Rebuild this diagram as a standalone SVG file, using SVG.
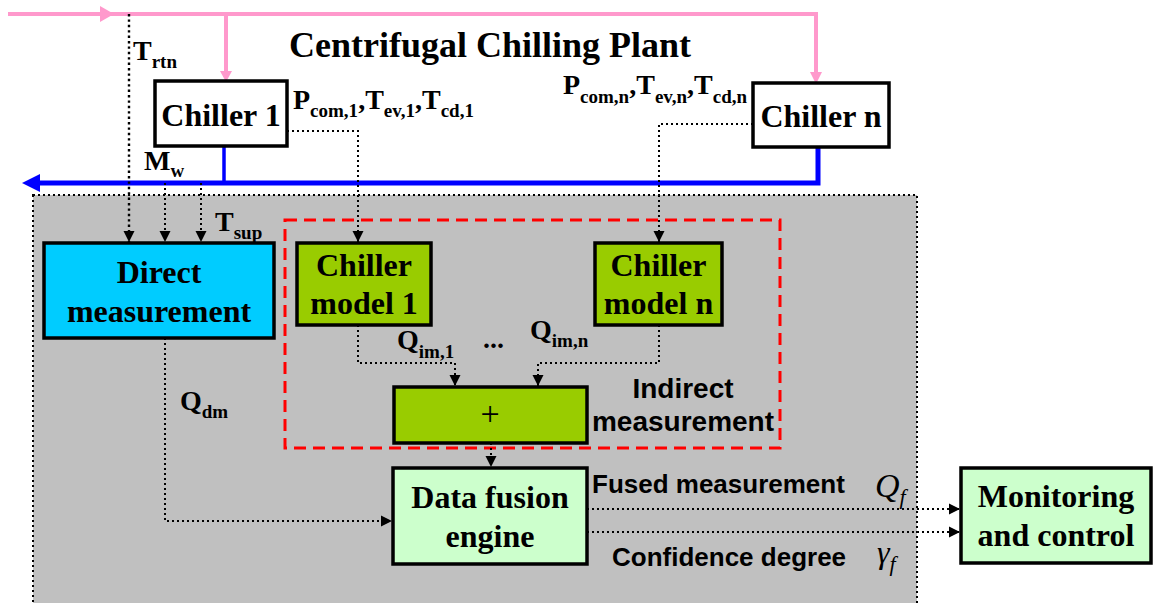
<svg xmlns="http://www.w3.org/2000/svg" width="1155" height="603" viewBox="0 0 1155 603">
<defs>
<style>
.box{stroke:#000;stroke-width:3.5}
.bt{font-family:"Liberation Serif","Times New Roman",serif;font-weight:bold;font-size:32px;text-anchor:middle;fill:#000}
.lb{font-family:"Liberation Serif","Times New Roman",serif;font-weight:bold;font-size:28px;fill:#000}
.sub{font-size:19px}
.sa{font-family:"Liberation Sans",Arial,sans-serif;font-weight:bold;fill:#000}
.mi{font-family:"Liberation Serif","Times New Roman",serif;font-style:italic;fill:#000}
.dot{fill:none;stroke:#000;stroke-width:2;stroke-dasharray:2 3}
.dotb{fill:none;stroke:#000;stroke-width:2.4;stroke-dasharray:2.4 3}
.pink{stroke:#FF99CC;stroke-width:4;fill:none}
.blue{stroke:#0000FF;stroke-width:5;fill:none}
</style>
<marker id="ah" markerUnits="userSpaceOnUse" markerWidth="12" markerHeight="12" refX="11" refY="6" orient="auto">
<path d="M0,0.5 L11,6 L0,11.5 z" fill="#000"/>
</marker>
</defs>
<rect width="1155" height="603" fill="#fff"/>

<g id="plant-area">
<rect x="33" y="195" width="884" height="412" fill="#C0C0C0" stroke="#000" stroke-width="2" stroke-dasharray="2 3"/>
</g>

<g id="title">
<text x="490" y="57" class="bt" style="font-size:36px">Centrifugal Chilling Plant</text>
</g>

<g id="pipes">
<path class="pink" d="M8,14 H816 V73"/>
<path class="pink" d="M226,14 V72"/>
<polygon points="100,6 114,14 100,22" fill="#FF99CC"/>
<polygon points="220,71 232,71 226,82" fill="#FF99CC"/>
<polygon points="810,72 822,72 816,84" fill="#FF99CC"/>
<path class="blue" d="M38,183 H818 V147"/>
<path d="M224,146 V183" stroke="#0000FF" stroke-width="3.5"/>
<polygon points="22,183 40,174 40,192" fill="#0000FF"/>
</g>

<g id="indirect-group">
<rect x="285" y="220" width="495" height="228" fill="none" stroke="#FF0000" stroke-width="3" stroke-dasharray="12 7"/>
<text x="683" y="398" class="sa" style="font-size:28px;text-anchor:middle">Indirect</text>
<text x="683" y="431" class="sa" style="font-size:28px;text-anchor:middle">measurement</text>
</g>

<g id="chiller1">
<rect x="155" y="81" width="132" height="65" fill="#fff" class="box"/>
<text x="221" y="126" class="bt">Chiller 1</text>
</g>
<g id="chillern">
<rect x="753" y="83" width="136" height="64" fill="#fff" class="box"/>
<text x="821" y="127" class="bt">Chiller n</text>
</g>
<g id="direct-measurement">
<rect x="44" y="243" width="230" height="95" fill="#00CCFF" class="box"/>
<text x="159" y="283" class="bt">Direct</text>
<text x="159" y="322" class="bt">measurement</text>
</g>
<g id="chiller-model-1">
<rect x="297" y="243" width="134" height="82" fill="#99CC00" class="box"/>
<text x="364" y="276" class="bt">Chiller</text>
<text x="364" y="314" class="bt">model 1</text>
</g>
<g id="chiller-model-n">
<rect x="595" y="243" width="127" height="82" fill="#99CC00" class="box"/>
<text x="658.5" y="276" class="bt">Chiller</text>
<text x="658.5" y="314" class="bt">model n</text>
</g>
<g id="sum">
<rect x="394" y="387" width="193" height="56" fill="#99CC00" class="box"/>
<text x="490" y="425" style="font-family:'Liberation Serif',serif;font-size:34px;text-anchor:middle">+</text>
</g>
<g id="data-fusion-engine">
<rect x="393" y="468" width="194" height="96" fill="#CCFFCC" class="box"/>
<text x="490" y="508" class="bt">Data fusion</text>
<text x="490" y="547" class="bt">engine</text>
</g>
<g id="monitoring-control">
<rect x="961" y="468" width="190" height="95" fill="#CCFFCC" class="box"/>
<text x="1056" y="507" class="bt">Monitoring</text>
<text x="1056" y="546" class="bt">and control</text>
</g>

<g id="connectors">
<path class="dotb" d="M129,14 V242" marker-end="url(#ah)"/>
<path class="dot" d="M165,183 V242" marker-end="url(#ah)"/>
<path class="dot" d="M201,183 V242" marker-end="url(#ah)"/>
<path class="dot" d="M287,131 H358 V242" marker-end="url(#ah)"/>
<path class="dot" d="M753,124 H659 V242" marker-end="url(#ah)"/>
<path class="dot" d="M358,325 V363 H455 V386" marker-end="url(#ah)"/>
<path class="dot" d="M659,325 V363 H538 V386" marker-end="url(#ah)"/>
<path class="dot" d="M491,443 V467" marker-end="url(#ah)"/>
<path class="dot" d="M165,338 V521 H392" marker-end="url(#ah)"/>
<path class="dot" d="M587,509 H960" marker-end="url(#ah)"/>
<path class="dot" d="M587,532 H960" marker-end="url(#ah)"/>
</g>

<g id="labels">
<text x="133" y="60" class="lb">T<tspan class="sub" dy="8">rtn</tspan></text>
<text x="144" y="170" class="lb">M<tspan class="sub" dy="7">w</tspan></text>
<text x="215" y="231" class="lb">T<tspan class="sub" dy="8">sup</tspan></text>
<text x="293" y="109" class="lb">P<tspan class="sub" dy="8">com,1</tspan><tspan dy="-8">,T</tspan><tspan class="sub" dy="8">ev,1</tspan><tspan dy="-8">,T</tspan><tspan class="sub" dy="8">cd,1</tspan></text>
<text x="563" y="94" class="lb">P<tspan class="sub" dy="9">com,n</tspan><tspan dy="-9">,T</tspan><tspan class="sub" dy="9">ev,n</tspan><tspan dy="-9">,T</tspan><tspan class="sub" dy="9">cd,n</tspan></text>
<text x="180" y="410" class="lb">Q<tspan class="sub" dy="8">dm</tspan></text>
<text x="397" y="349" class="lb">Q<tspan class="sub" dy="9">im,1</tspan></text>
<text x="483" y="348" class="lb">...</text>
<text x="530" y="339" class="lb">Q<tspan class="sub" dy="8">im,n</tspan></text>
<text x="592" y="493" class="sa" style="font-size:26px">Fused measurement</text>
<text x="612" y="566" class="sa" style="font-size:26px">Confidence degree</text>
<text x="875" y="497" class="mi" style="font-size:34px">Q<tspan dy="7" style="font-size:22px">f</tspan></text>
<text x="877" y="563" class="mi" style="font-size:32px">γ<tspan dy="8" style="font-size:22px">f</tspan></text>
</g>
</svg>
